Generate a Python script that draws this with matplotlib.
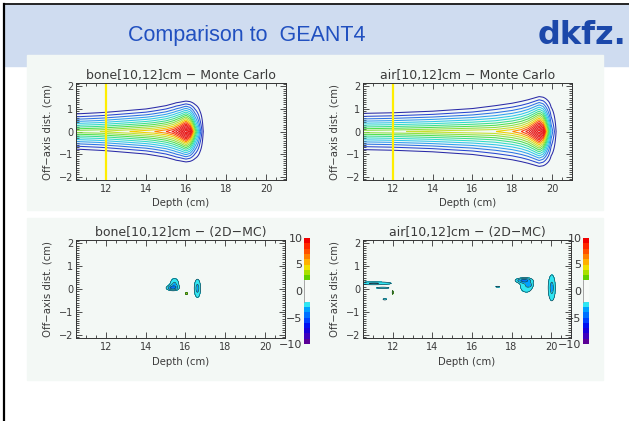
import numpy as np
import matplotlib
matplotlib.use("Agg")
import matplotlib.pyplot as plt
from matplotlib.colors import ListedColormap, BoundaryNorm
from matplotlib.patches import Rectangle
from matplotlib.lines import Line2D
from matplotlib.ticker import MultipleLocator

W, H = 629, 421

BONE_DEPTH = [10.5, 11.6, 13.1, 14.4, 15.0, 15.4, 15.7, 15.9, 16.0, 16.2, 16.45, 16.7, 16.86, 17.1]
BONE_DOSE = [0.485, 0.50, 0.55, 0.60, 0.65, 0.72, 0.83, 0.95, 1.00, 0.85, 0.45, 0.18, 0.05, 0.0]
AIR_DEPTH = [10.5, 12.35, 15.0, 17.15, 18.0, 18.45, 18.8, 19.05, 19.25, 19.35, 19.55, 19.75, 19.95, 20.2, 20.45]
AIR_DOSE = [0.485, 0.50, 0.53, 0.55, 0.60, 0.65, 0.73, 0.84, 0.95, 1.00, 0.85, 0.50, 0.20, 0.05, 0.0]

# lateral extent of the beam (cm) along depth
BONE_W_DEPTH = [10.5, 12.0, 14.0, 15.0, 15.5, 16.0, 17.5]
BONE_WIDTH = [1.00, 1.08, 1.24, 1.40, 1.52, 1.56, 1.56]
AIR_W_DEPTH = [10.5, 12.0, 14.0, 16.0, 18.0, 19.35, 21.0]
AIR_WIDTH = [1.03, 1.06, 1.14, 1.28, 1.55, 1.79, 1.79]

DOSE_LEVELS = [0.05, 0.10, 0.15, 0.20, 0.25, 0.30, 0.35, 0.40, 0.45, 0.50,
               0.55, 0.60, 0.65, 0.70, 0.75, 0.80, 0.85, 0.90, 0.95]
LEVEL_COLORS = ["#2a2aa8", "#2846d2", "#2c72e4", "#30a0f0", "#30c8e8",
                "#30dcc8", "#3ce08c", "#50e050", "#8ce040", "#c4e030",
                "#f0d000", "#ff8c00", "#ff3c10", "#f02010", "#e81818",
                "#e81818", "#e81818", "#e81818", "#e81818"]

# dose difference (%) features, 2D minus MC: depth, off-axis, sx, sy, amplitude
BONE_DX = [15.45, 15.30, 16.60, 16.05]
BONE_DY = [0.26, 0.04, 0.03, -0.20]
BONE_SX = [0.22, 0.27, 0.16, 0.05]
BONE_SY = [0.22, 0.09, 0.40, 0.05]
BONE_AMP = [-3.0, -2.9, -3.3, 3.2]

AIR_DX = [11.05, 11.50, 11.60, 12.00, 17.30, 18.75, 18.55, 18.92, 20.03]
AIR_DY = [0.25, 0.05, -0.45, -0.15, 0.10, 0.12, 0.38, 0.18, 0.05]
AIR_SX = [0.94, 0.37, 0.11, 0.03, 0.15, 0.35, 0.35, 0.10, 0.18]
AIR_SY = [0.07, 0.035, 0.04, 0.09, 0.03, 0.30, 0.08, 0.06, 0.57]
AIR_AMP = [-3.1, -2.8, -2.8, 3.0, -2.5, -2.9, -2.6, -1.2, -3.3]

CBAR_COLORS = ["#5a0096", "#3c00be", "#1800d8", "#0010f0", "#0040ff",
               "#0070ff", "#00a0ff", "#30e6f2",
               "#f7faf8", "#f7faf8", "#f7faf8", "#f7faf8",
               "#60d000", "#a8e000", "#f0e000", "#ffb000", "#ff8000",
               "#ff5000", "#ff2800", "#f00000"]
DIFF_BOUNDS = np.arange(-10, 11)

PANEL = "#f3f8f5"
TXT = "#3a3a3a"

zz, yy = np.meshgrid(np.linspace(10.3, 21.3, 800), np.linspace(-2.3, 2.3, 420))


def dose_field(depth, dose, wdepth, width):
    dd = np.interp(zz, depth, dose)
    w = np.interp(zz, wdepth, width)
    u = np.clip(np.abs(yy) / w, 0, 1)
    return dd * (1 - u) ** 1.5


def diff_field(cx, cy, sx, sy, amp):
    f = np.zeros_like(zz)
    for x, y, a, b, c in zip(cx, cy, sx, sy, amp):
        f += c * np.exp(-0.5 * (((zz - x) / a) ** 2 + ((yy - y) / b) ** 2))
    return f


def px_axes(fig, l, r, t, b):
    return fig.add_axes([l / W, 1 - b / H, (r - l) / W, (b - t) / H])


def style(ax, title):
    ax.set_xlim(10.5, 21)
    ax.set_ylim(-2.15, 2.15)
    ax.set_facecolor(PANEL)
    ax.xaxis.set_major_locator(MultipleLocator(2))
    ax.xaxis.set_minor_locator(MultipleLocator(0.5))
    ax.yaxis.set_major_locator(MultipleLocator(1))
    ax.yaxis.set_minor_locator(MultipleLocator(0.1))
    ax.set_xticks([12, 14, 16, 18, 20])
    ax.tick_params(which="both", direction="in", top=True, right=True,
                   width=0.6, color="#333333", labelsize=7, labelcolor=TXT)
    ax.tick_params(which="major", length=4, pad=3)
    ax.tick_params(which="minor", length=2)
    ax.tick_params(axis="y", pad=2)
    for s in ax.spines.values():
        s.set_linewidth(0.7)
        s.set_color("#333333")
    ax.set_title(title, fontsize=9, color=TXT, pad=3)
    ax.set_xlabel("Depth (cm)", fontsize=7.3, color=TXT, va="top")
    ax.set_ylabel("Off\u2212axis dist. (cm)", fontsize=7.3, color=TXT, va="center")
    ax.xaxis.set_label_coords(0.5, -0.19)
    ax.yaxis.set_label_coords(-0.135, 0.5)


def colorbar(fig, l, r, t, b):
    cax = px_axes(fig, l, r, t, b)
    cmap = ListedColormap(CBAR_COLORS)
    norm = BoundaryNorm(DIFF_BOUNDS, cmap.N)
    vals = (DIFF_BOUNDS[:-1] + 0.5).reshape(-1, 1)
    cax.pcolormesh([0, 1], DIFF_BOUNDS, vals, cmap=cmap, norm=norm)
    cax.set_xlim(0, 1)
    cax.set_ylim(-10, 10)
    cax.set_xticks([])
    cax.set_yticks([-10, -5, 0, 5, 10])
    cax.tick_params(axis="y", length=0, pad=1, labelsize=8, labelcolor=TXT)
    for s in cax.spines.values():
        s.set_visible(False)
    cax.plot([0, 0], [-2, 2], color="#999999", lw=0.6)


fig = plt.figure(figsize=(W / 100, H / 100), dpi=100)
fig.patch.set_facecolor("white")

fig.add_artist(Rectangle((5 / W, 1 - 66 / H), 1, 61 / H, transform=fig.transFigure,
                         color="#cfdcf0", zorder=-3))
fig.add_artist(Rectangle((27 / W, 1 - 210 / H), 576 / W, 155 / H,
                         transform=fig.transFigure, color=PANEL, zorder=-2))
fig.add_artist(Rectangle((27 / W, 1 - 380 / H), 576 / W, 162 / H,
                         transform=fig.transFigure, color=PANEL, zorder=-2))
fig.add_artist(Line2D([4 / W, 4 / W], [0, 1 - 4 / H], transform=fig.transFigure,
                      color="black", lw=1.6))
fig.add_artist(Line2D([4 / W, 1], [1 - 4 / H, 1 - 4 / H], transform=fig.transFigure,
                      color="black", lw=1.2))
fig.text(247 / W, 1 - 36 / H, "Comparison to  GEANT4", ha="center", va="center",
         fontsize=15.5, color="#2150c0", family="Liberation Sans")
fig.text(582 / W, 1 - 36 / H, "dkfz.", ha="center", va="center", fontsize=23,
         fontweight="heavy", color="#1c48aa", family="DejaVu Sans")

cases = [
    ("bone", BONE_DEPTH, BONE_DOSE, BONE_W_DEPTH, BONE_WIDTH,
     (BONE_DX, BONE_DY, BONE_SX, BONE_SY, BONE_AMP), 76, 286, 304),
    ("air", AIR_DEPTH, AIR_DOSE, AIR_W_DEPTH, AIR_WIDTH,
     (AIR_DX, AIR_DY, AIR_SX, AIR_SY, AIR_AMP), 363, 572, 583),
]

for name, depth, dose, wdepth, width, blobs, left, right, cbl in cases:
    ax = px_axes(fig, left, right, 83, 180)
    d = dose_field(depth, dose, wdepth, width)
    ax.contour(zz, yy, d, levels=DOSE_LEVELS, colors=LEVEL_COLORS, linewidths=0.75)
    ax.axvline(12, color="#ffee00", lw=1.6)
    style(ax, f"{name}[10,12]cm \u2212 Monte Carlo")

    bx = px_axes(fig, left, right - 1, 240, 338)
    f = diff_field(*blobs)
    lv = [-10, -9, -8, -7, -6, -5, -4, -3, -2, 2, 3, 4, 5, 6, 7, 8, 9, 10]
    cols = CBAR_COLORS[:8] + ["none"] + CBAR_COLORS[12:]
    bx.contourf(zz, yy, f, levels=lv, colors=cols)
    bx.contour(zz, yy, f, levels=[-4, -3, -2, 2], colors="#1c3040",
               linewidths=0.45, linestyles="solid")
    style(bx, f"{name}[10,12]cm \u2212 (2D\u2212MC)")
    colorbar(fig, cbl, cbl + 6, 238, 344)

fig.savefig("out.png", dpi=100)
